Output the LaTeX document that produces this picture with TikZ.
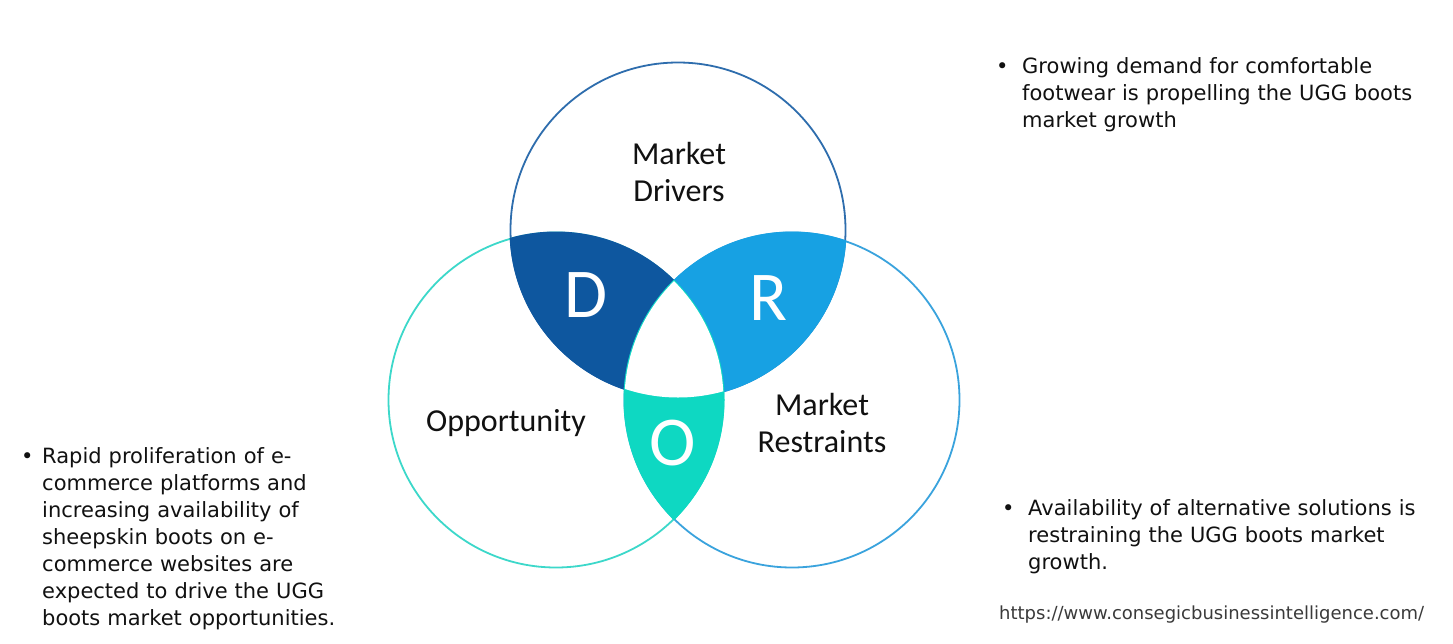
\documentclass[tikz,border=0pt]{standalone}
\usepackage{fontspec}
\setmainfont{DejaVu Sans}
\newfontfamily\carlito{Carlito}
\definecolor{tcol}{HTML}{2E6DAD}
\definecolor{lcol}{HTML}{3CD8CA}
\definecolor{rcol}{HTML}{3AA3DD}
\definecolor{dfill}{HTML}{0E579F}
\definecolor{rfill}{HTML}{17A1E3}
\definecolor{ofill}{HTML}{0ED8C2}
\definecolor{labelc}{HTML}{111111}
\definecolor{bodyc}{HTML}{111111}
\definecolor{urlc}{HTML}{3A3A3A}
\begin{document}
\begin{tikzpicture}[x=1pt,y=-1pt,
  venn/.style={line width=1.8pt},
  lbl/.style={font=\carlito\fontsize{32}{37}\selectfont, text=labelc, inner sep=0pt, align=center},
  big/.style={font=\carlito\fontsize{70}{70}\selectfont, text=white, inner sep=0pt, anchor=base},
  bul/.style={font=\fontsize{21}{27}\selectfont, text=bodyc, inner sep=0pt, anchor=base west, text width=430pt, align=left},
  dot/.style={font=\fontsize{21}{27}\selectfont, text=bodyc, inner sep=0pt, anchor=base west}
]
\useasboundingbox (0,0) rectangle (1453,643);
\fill[white] (0,0) rectangle (1453,643);

\coordinate (cT) at (678,230);
\coordinate (cL) at (556,400);
\coordinate (cR) at (792,400);

% outlines
\draw[venn, tcol] (cT) circle[radius=167.5pt];
\draw[venn, lcol] (cL) circle[radius=167.5pt];
\draw[venn, rcol] (cR) circle[radius=167.5pt];

% D region
\begin{scope}
  \clip (cT) circle[radius=168.5pt];
  \clip (cL) circle[radius=168.5pt];
  \fill[dfill] (0,0) rectangle (1453,643);
\end{scope}
% R region
\begin{scope}
  \clip (cT) circle[radius=168.5pt];
  \clip (cR) circle[radius=168.5pt];
  \fill[rfill] (0,0) rectangle (1453,643);
\end{scope}
% O region
\begin{scope}
  \clip (cL) circle[radius=168.5pt];
  \clip (cR) circle[radius=168.5pt];
  \fill[ofill] (0,0) rectangle (1453,643);
\end{scope}
% centre
\begin{scope}
  \clip (cT) circle[radius=167.5pt];
  \clip (cL) circle[radius=167.5pt];
  \clip (cR) circle[radius=167.5pt];
  \fill[white] (0,0) rectangle (1453,643);
\end{scope}

% labels
\node[lbl] (drivers) at (679,172) {Market\\Drivers};
\node[lbl, anchor=base] (opp) at (506,431) {Opportunity};
\node[lbl] (restraints) at (822,423) {Market\\Restraints};
\node[big] (D) at (586,317) {D};
\node[big] (R) at (768,320) {R};
\node[big] (O) at (673,465) {O};

% bullet texts
\node[dot] (b1) at (996,73) {•};
\node[bul] (t1) at (1022,73) {Growing demand for comfortable\\footwear is propelling the UGG boots\\market growth};
\node[dot] (b2) at (1002,515) {•};
\node[bul] (t2) at (1028,515) {Availability of alternative solutions is\\restraining the UGG boots market\\growth.};
\node[dot] (b3) at (21,463) {•};
\node[bul] (t3) at (42,463) {Rapid proliferation of e-\\commerce platforms and\\increasing availability of\\sheepskin boots on e-\\commerce websites are\\expected to drive the UGG\\boots market opportunities.};

\node[anchor=base west, inner sep=0pt, font=\fontsize{18}{20}\selectfont, text=urlc] (url) at (999,619) {https://www.consegicbusinessintelligence.com/};
\end{tikzpicture}
\end{document}
